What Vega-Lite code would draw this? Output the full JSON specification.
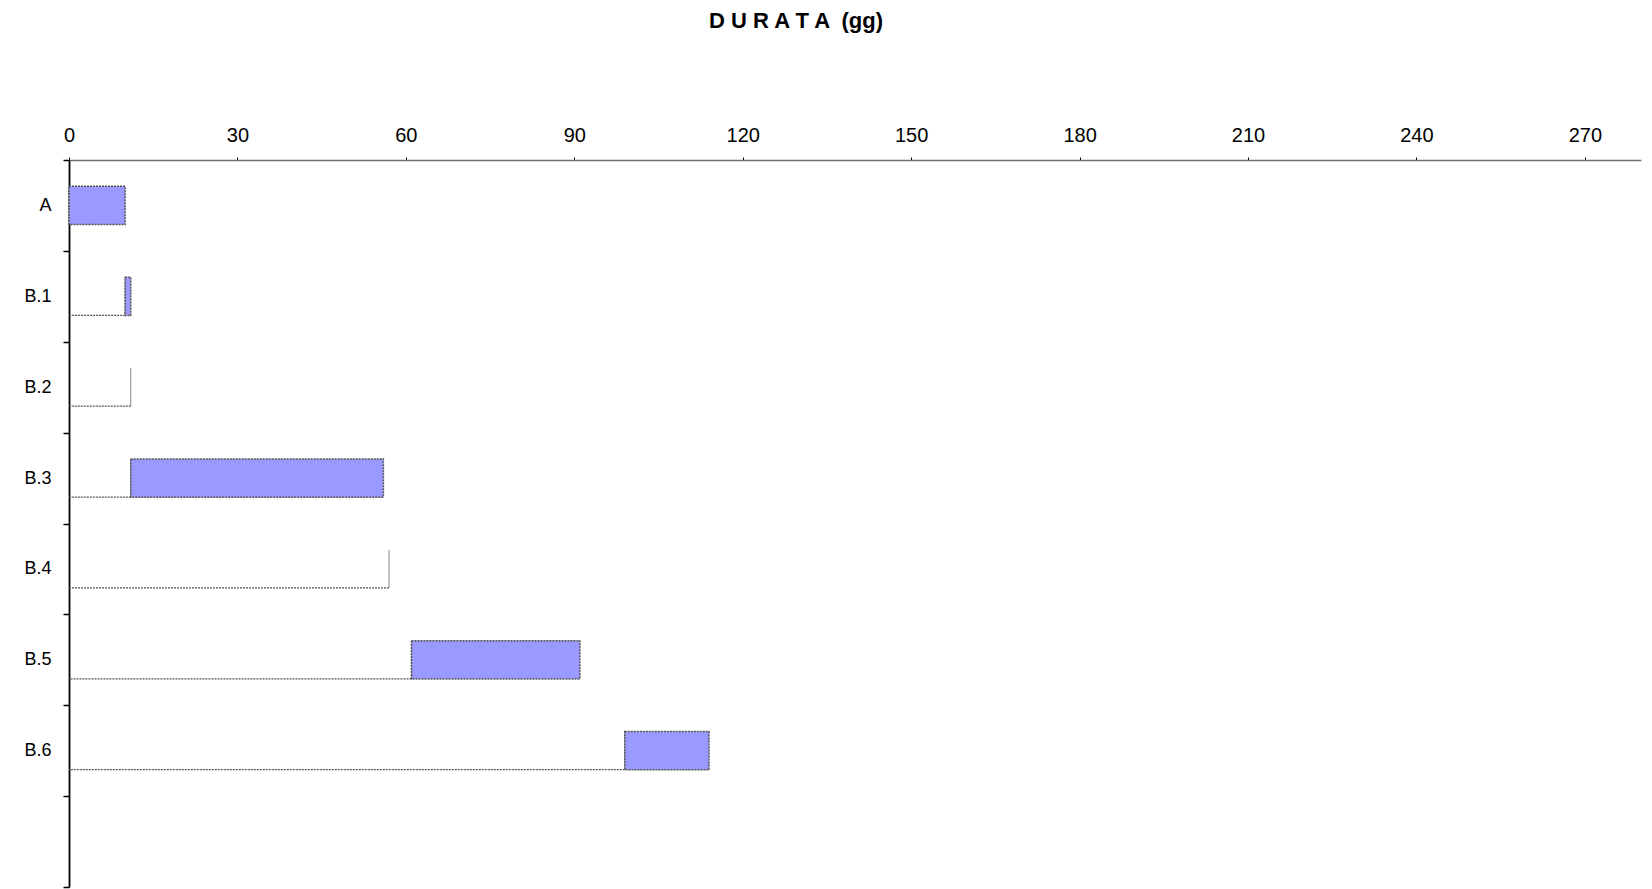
{
  "$schema": "https://vega.github.io/schema/vega-lite/v6.json",
  "autosize": "none",
  "padding": {"left": 69, "top": 160, "right": 11, "bottom": 2},
  "width": 1572,
  "height": 727,
  "background": "white",
  "view": {"stroke": null},
  "title": {
    "text": "D U R A T A \u00a0(gg)",
    "font": "Liberation Sans",
    "fontSize": 22,
    "fontWeight": "bold",
    "color": "black",
    "anchor": "middle",
    "frame": "group",
    "dx": -59,
    "offset": 92
  },
  "data": {
    "values": [
      {"task": "A", "start": 0, "end": 10},
      {"task": "B.1", "start": 10, "end": 11},
      {"task": "B.2", "start": 11, "end": 11},
      {"task": "B.3", "start": 11, "end": 56},
      {"task": "B.4", "start": 57, "end": 57},
      {"task": "B.5", "start": 61, "end": 91},
      {"task": "B.6", "start": 99, "end": 114}
    ]
  },
  "encoding": {
    "y": {
      "field": "task",
      "type": "nominal",
      "scale": {
        "domain": ["A", "B.1", "B.2", "B.3", "B.4", "B.5", "B.6", ""],
        "paddingInner": 0,
        "paddingOuter": 0
      },
      "axis": {
        "title": null,
        "orient": "left",
        "tickBand": "extent",
        "domainColor": "black",
        "domainWidth": 1.8,
        "tickColor": "black",
        "tickWidth": 1.5,
        "tickSize": 6,
        "labelFont": "Liberation Sans",
        "labelFontSize": 18,
        "labelColor": "black",
        "labelPadding": 12,
        "grid": false
      }
    }
  },
  "layer": [
    {
      "transform": [{"filter": "datum.start > 0"}],
      "mark": {"type": "rule", "yOffset": 19, "stroke": "#555555", "strokeWidth": 1.3, "strokeDash": [2, 1]},
      "encoding": {
        "x": {
          "field": "start",
          "type": "quantitative",
          "scale": {"domain": [0, 280], "nice": false, "zero": true},
          "axis": {
            "title": null,
            "orient": "top",
            "values": [0, 30, 60, 90, 120, 150, 180, 210, 240, 270],
            "domainColor": "#707070",
            "domainWidth": 1.5,
            "tickColor": "black",
            "tickWidth": 1,
            "tickSize": 3,
            "labelFont": "Liberation Sans",
            "labelFontSize": 20,
            "labelColor": "black",
            "labelPadding": 12,
            "labelFlush": false,
            "grid": false
          }
        },
        "x2": {"datum": 0}
      }
    },
    {
      "transform": [{"filter": "datum.start > 0"}],
      "mark": {"type": "tick", "orient": "vertical", "size": 38, "thickness": 1, "color": "#888888", "opacity": 1},
      "encoding": {
        "x": {"field": "start", "type": "quantitative"}
      }
    },
    {
      "transform": [{"filter": "datum.end > datum.start"}],
      "mark": {
        "type": "bar",
        "height": {"band": 0.42},
        "fill": "#9999FF",
        "stroke": "#555555",
        "strokeWidth": 1.5,
        "strokeDash": [2, 1],
        "opacity": 1
      },
      "encoding": {
        "x": {"field": "start", "type": "quantitative"},
        "x2": {"field": "end"}
      }
    }
  ]
}
